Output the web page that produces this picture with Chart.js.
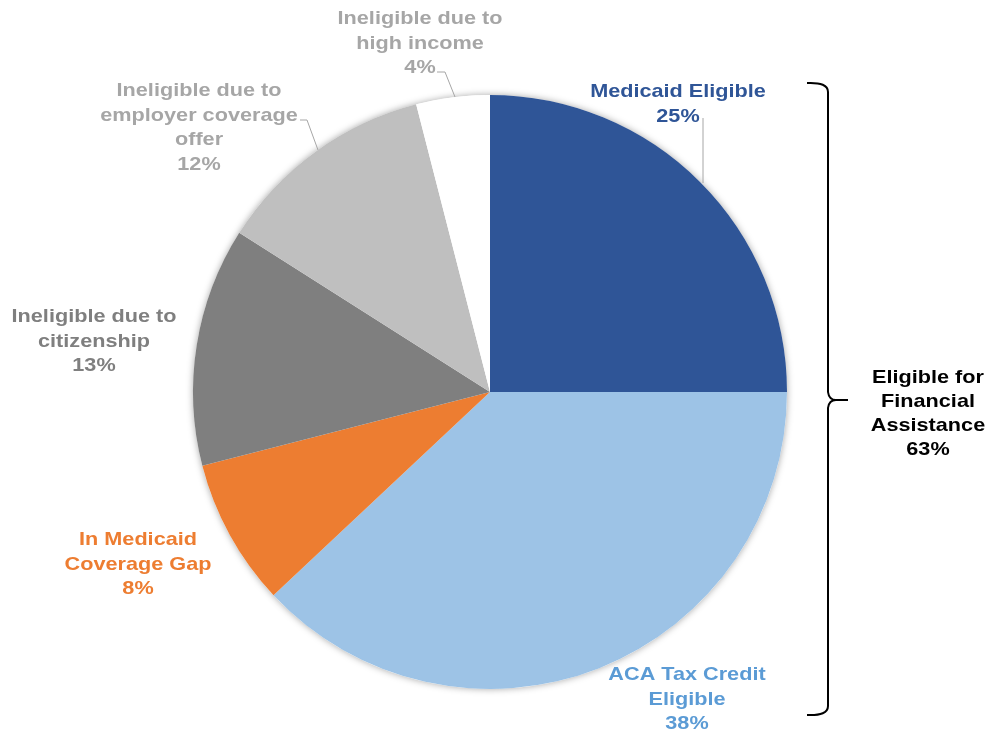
<!DOCTYPE html>
<html>
<head>
<meta charset="utf-8">
<script src="https://cdn.jsdelivr.net/npm/chart.js@4.4.1/dist/chart.umd.min.js"></script>
<style>
  html, body { margin: 0; padding: 0; background: #fff; }
  #wrap { width: 987px; height: 731px; position: relative; }
</style>
</head>
<body>
<div id="wrap"><canvas id="pie" width="987" height="731"></canvas></div>
<script>
// slice data, clockwise from 12 o'clock
var categories = ['Medicaid Eligible', 'ACA Tax Credit Eligible', 'In Medicaid Coverage Gap',
                  'Ineligible due to citizenship', 'Ineligible due to employer coverage offer',
                  'Ineligible due to high income'];
var shares = [25, 38, 8, 13, 12, 4];
var sliceColors = ['#2F5597', '#9DC3E6', '#ED7D31', '#7F7F7F', '#BFBFBF', '#FFFFFF'];
var labelColors = ['#2F5597', '#5B9BD5', '#ED7D31', '#7F7F7F', '#A6A6A6', '#A6A6A6'];
// wrapped label text for each slice
var labelLines = [
    ['Medicaid Eligible', '25%'],
    ['ACA Tax Credit', 'Eligible', '38%'],
    ['In Medicaid', 'Coverage Gap', '8%'],
    ['Ineligible due to', 'citizenship', '13%'],
    ['Ineligible due to', 'employer coverage', 'offer', '12%'],
    ['Ineligible due to', 'high income', '4%']
];
var bracketLines = ['Eligible for', 'Financial', 'Assistance', '63%'];

// where each label block sits (first line baseline centre)
var labelPos = [[678, 97], [687, 680], [138, 545], [94, 322], [199, 96], [420, 24]];
// leader lines for the labels that have one
var leaders = [
    [[703, 118], [703, 183]],
    null,
    null,
    null,
    [[300, 120], [307, 120], [318, 150]],
    [[437, 72], [445, 72], [455, 97]]
];

var FONT = 'bold 19px "Liberation Sans", Arial, sans-serif';
var STRETCH = 1.14;  // reference text is drawn a bit wide

function wideText(ctx, t, x, y) {
    ctx.save();
    ctx.translate(x, y);
    ctx.scale(STRETCH, 1);
    ctx.fillText(t, 0, 0);
    ctx.restore();
}

var shadowPlugin = {
    id: 'pieShadow',
    beforeDatasetsDraw: function(chart) {
        var arc = chart.getDatasetMeta(0).data[0];
        var ctx = chart.ctx;
        ctx.save();
        ctx.shadowColor = 'rgba(0,0,0,0.35)';
        ctx.shadowBlur = 7;
        ctx.fillStyle = '#fff';
        ctx.beginPath();
        ctx.arc(arc.x, arc.y, arc.outerRadius, 0, Math.PI * 2);
        ctx.fill();
        ctx.restore();
    }
};

var labelPlugin = {
    id: 'sliceLabels',
    afterDatasetsDraw: function(chart) {
        var ctx = chart.ctx;
        ctx.save();
        ctx.font = FONT;
        ctx.textAlign = 'center';
        ctx.textBaseline = 'alphabetic';
        labelLines.forEach(function(lines, i) {
            ctx.fillStyle = labelColors[i];
            lines.forEach(function(t, j) {
                wideText(ctx, t, labelPos[i][0], labelPos[i][1] + j * 24.5);
            });
            if (leaders[i]) {
                ctx.strokeStyle = '#A6A6A6';
                ctx.lineWidth = 1;
                ctx.beginPath();
                leaders[i].forEach(function(p, k) {
                    if (k === 0) ctx.moveTo(p[0], p[1]); else ctx.lineTo(p[0], p[1]);
                });
                ctx.stroke();
            }
        });

        // curly bracket on the right
        ctx.strokeStyle = '#000';
        ctx.lineWidth = 2;
        ctx.beginPath();
        ctx.moveTo(807, 83);
        ctx.quadraticCurveTo(828, 82, 828, 92);
        ctx.lineTo(828, 392);
        ctx.quadraticCurveTo(829, 400, 836, 400);
        ctx.lineTo(848, 400);
        ctx.moveTo(836, 400);
        ctx.quadraticCurveTo(829, 400, 828, 408);
        ctx.lineTo(828, 706);
        ctx.quadraticCurveTo(828, 716, 807, 715);
        ctx.stroke();

        ctx.fillStyle = '#000';
        bracketLines.forEach(function(t, j) {
            wideText(ctx, t, 928, 383 + j * 24);
        });
        ctx.restore();
    }
};

var ctx = document.getElementById('pie').getContext('2d');
var pieChart = new Chart(ctx, {
    type: 'pie',
    data: {
        labels: categories,
        datasets: [{
            data: shares,
            backgroundColor: sliceColors,
            borderWidth: 0
        }]
    },
    options: {
        responsive: false,
        animation: false,
        layout: { padding: { left: 193, right: 200, top: 95, bottom: 42 } },
        plugins: {
            legend: { display: false },
            tooltip: { enabled: false }
        }
    },
    plugins: [shadowPlugin, labelPlugin]
});
</script>
</body>
</html>
